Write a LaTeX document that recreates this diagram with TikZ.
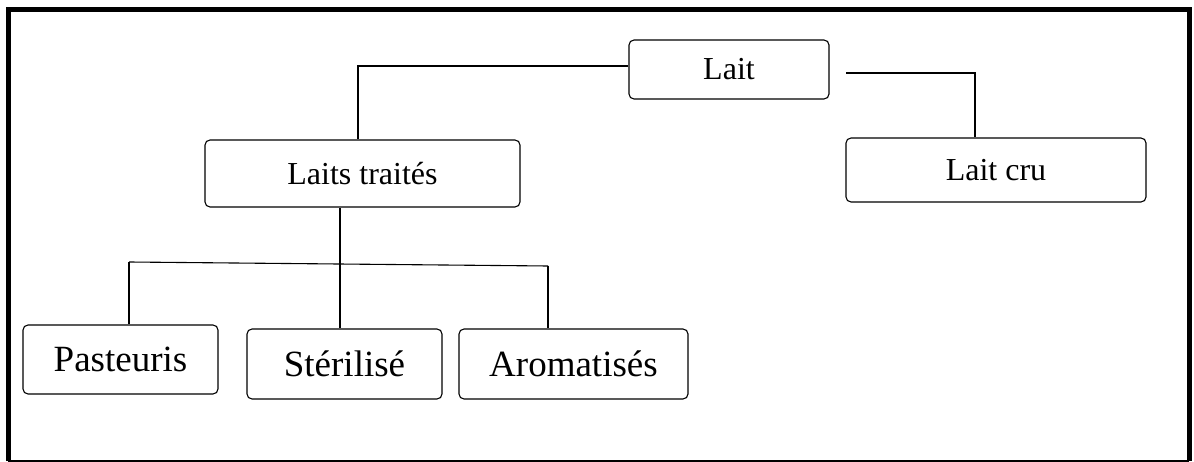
\documentclass[tikz,border=0pt]{standalone}
\usepackage{fontspec}
\setmainfont{Liberation Serif}
\usepackage{tikz}

\begin{document}
\begin{tikzpicture}[x=1pt,y=-1pt,
  boite/.style={draw, rounded corners=5pt, line width=1.1pt, inner sep=0pt},
  petit/.style={boite, font=\fontsize{32}{34}\selectfont},
  grand/.style={boite, font=\fontsize{37}{40}\selectfont},
  trait/.style={line width=1.1pt}]
\useasboundingbox (0,0) rectangle (1194,462);
% cadre
\draw[line width=5pt] (8,461) -- (8,9.5) -- (1189,9.5) -- (1189,461);
\draw[line width=1.2pt] (8,461) -- (1189,461);
% boites
\node[petit, minimum width=200pt, minimum height=59pt] (lait) at (729,69.5) {Lait};
\node[petit, minimum width=315pt, minimum height=67pt] (traites) at (362.5,173.5) {Laits traités};
\node[petit, minimum width=300pt, minimum height=64pt] (cru) at (996,170) {Lait cru};
\node[grand, minimum width=195pt, minimum height=69pt] (pasteuris) at (120.5,359.5) {Pasteuris};
\node[grand, minimum width=195pt, minimum height=70pt] (sterilise) at (344.5,364) {Stérilisé};
\node[grand, minimum width=229pt, minimum height=70pt] (aromatises) at (573.5,364) {Aromatisés};
% liaisons
\coordinate (depart) at (846,73);
\coordinate (g) at (129,262);
\coordinate (d) at (548,266);
\draw[trait] ([yshift=3.5pt]lait.west) -| ([xshift=-4.5pt]traites.north);
\draw[line width=1.6pt] (depart) -| ([xshift=-21pt]cru.north);
\draw[trait] ([xshift=-4.5pt]sterilise.north) -- ([xshift=-4.5pt]sterilise.north |- traites.south);
\draw[trait] (g) -- (d);
\draw[trait] (g) -- ([xshift=8.5pt]pasteuris.north);
\draw[trait] (d) -- ([xshift=-25.5pt]aromatises.north);
\end{tikzpicture}
\end{document}
